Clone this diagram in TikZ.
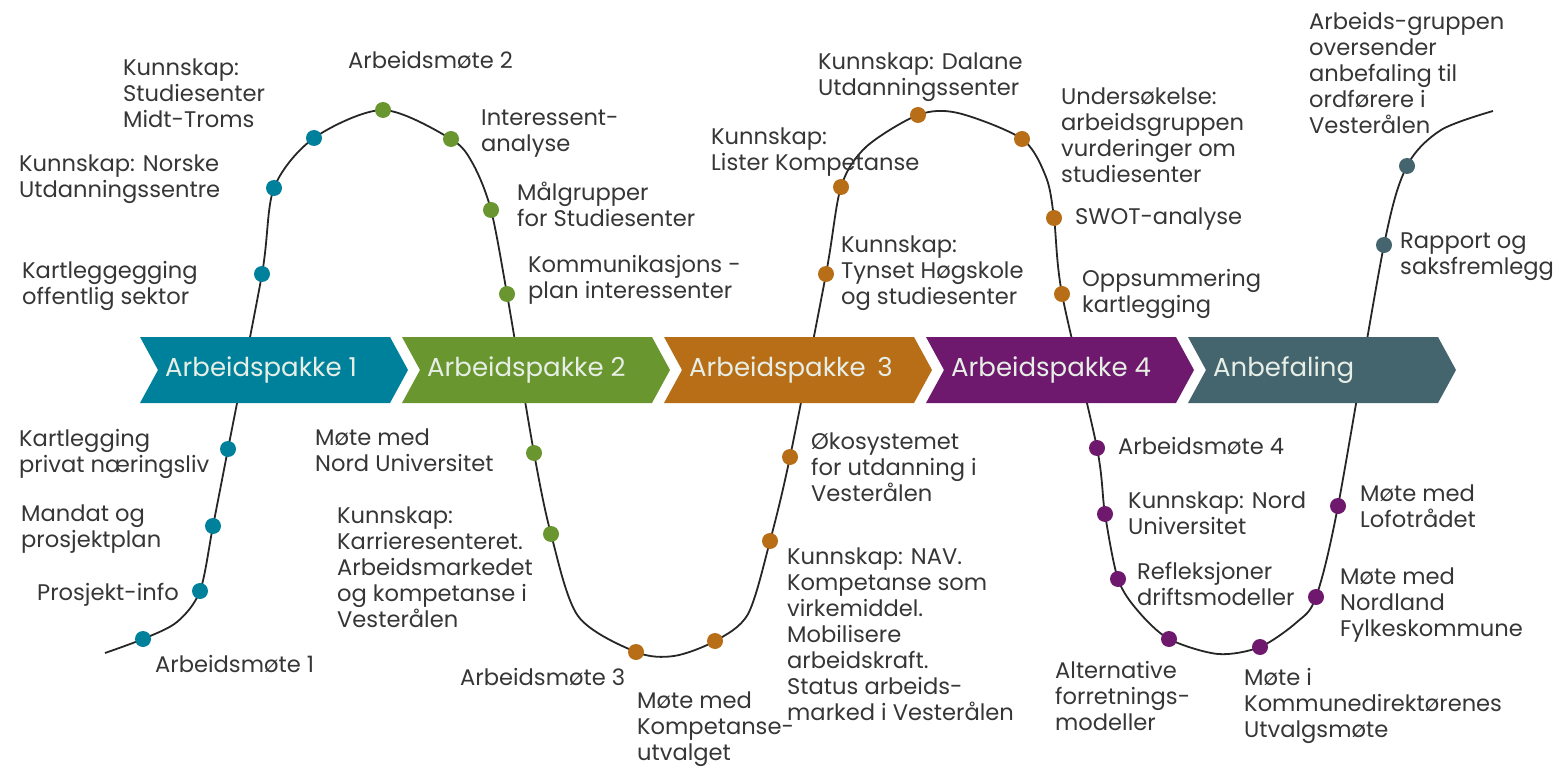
\documentclass[tikz,border=0pt]{standalone}
\usepackage{fontspec}
\setmainfont{Poppins}
\definecolor{cblue}{HTML}{00819B}
\definecolor{cgreen}{HTML}{6A962F}
\definecolor{corange}{HTML}{B86E17}
\definecolor{cpurple}{HTML}{6E196D}
\definecolor{cslate}{HTML}{44646E}
\definecolor{ctext}{HTML}{363636}
\definecolor{clight}{HTML}{E6EEE6}
\newcommand\chev[4]{%
  \fill[#2] (#1,337) -- ++(250,0) -- ++(18,33) -- ++(-18,33) -- ++(-250,0) -- ++(18,-33) -- cycle;
  \node[chevtext] (#3) at (#1+25,370) {#4};}
\begin{document}
\begin{tikzpicture}[x=1pt,y=-1pt,
  lbl/.style={anchor=north west, inner sep=0pt, align=left, text=ctext, font=\fontsize{22.6}{26}\selectfont},
  dot/.style={circle, fill=#1, minimum size=16pt, inner sep=0pt},
  chevtext/.style={anchor=west, inner sep=0pt, text=clight, font=\fontsize{26}{30}\selectfont},
  wave/.style={line width=1.8pt, draw=black!85}
]
\useasboundingbox (0,0) rectangle (1558,767);
% curve points
\coordinate (s0) at (105,653);
\coordinate (a1) at (143,639);
\coordinate (q1) at (177,622);
\coordinate (a2) at (200,591);
\coordinate (a3) at (213,526);
\coordinate (a4) at (228,449);
\coordinate (a5) at (262,274);
\coordinate (a6) at (274,188);
\coordinate (a7) at (314,138);
\coordinate (g1) at (383,110);
\coordinate (g2) at (451,139);
\coordinate (q2) at (473,164);
\coordinate (g3) at (491,210);
\coordinate (g4) at (507,294);
\coordinate (g5) at (534,453);
\coordinate (g6) at (551,534);
\coordinate (q3) at (578,616);
\coordinate (o1) at (636,652);
\coordinate (b1) at (674,656);
\coordinate (o2) at (715,641);
\coordinate (q4) at (748,614);
\coordinate (o3) at (770,541);
\coordinate (o4) at (790,457);
\coordinate (o5) at (826,274);
\coordinate (o6) at (841,187);
\coordinate (q5) at (866,147);
\coordinate (o7) at (918,115);
\coordinate (q6) at (958,113);
\coordinate (o8) at (1022,139);
\coordinate (q7) at (1046,177);
\coordinate (o9) at (1054,218);
\coordinate (o10) at (1062,294);
\coordinate (p1) at (1097,448);
\coordinate (p2) at (1105,514);
\coordinate (p3) at (1118,579);
\coordinate (q8) at (1138,611);
\coordinate (p4) at (1169,639);
\coordinate (b2) at (1218,654);
\coordinate (p5) at (1260,647);
\coordinate (q9) at (1297,622);
\coordinate (p6) at (1316,597);
\coordinate (p7) at (1338,506);
\coordinate (t1) at (1384,245);
\coordinate (t2) at (1407,166);
\coordinate (q10) at (1441,130);
\coordinate (e) at (1493,111);
\draw[wave] plot[smooth, tension=0.5] coordinates {(s0) (a1) (q1) (a2) (a3) (a4) (a5) (a6) (a7) (g1) (g2) (q2) (g3) (g4) (g5) (g6) (q3) (o1) (b1) (o2) (q4) (o3) (o4) (o5) (o6) (q5) (o7) (q6) (o8) (q7) (o9) (o10) (p1) (p2) (p3) (q8) (p4) (b2) (p5) (q9) (p6) (p7) (t1) (t2) (q10) (e)};
% chevrons
\chev{140}{cblue}{ap1}{Arbeidspakke 1}
\chev{402}{cgreen}{ap2}{Arbeidspakke 2}
\chev{664}{corange}{ap3}{Arbeidspakke\hspace{0.45em}3}
\chev{926}{cpurple}{ap4}{Arbeidspakke 4}
\chev{1188}{cslate}{anb}{Anbefaling}
% dots
\foreach \c in {a1,a2,a3,a4,a5,a6,a7} \node[dot=cblue] (d\c) at (\c) {};
\foreach \c in {g1,g2,g3,g4,g5,g6} \node[dot=cgreen] (d\c) at (\c) {};
\foreach \c in {o1,o2,o3,o4,o5,o6,o7,o8,o9,o10} \node[dot=corange] (d\c) at (\c) {};
\foreach \c in {p1,p2,p3,p4,p5,p6,p7} \node[dot=cpurple] (d\c) at (\c) {};
\foreach \c in {t1,t2} \node[dot=cslate] (d\c) at (\c) {};
% labels top
\node[lbl] (la7) at (123,59) {Kunnskap:\\Studiesenter\\Midt-Troms};
\node[lbl] (la6) at (19,155) {Kunnskap: Norske\\Utdanningssentre};
\node[lbl] (la5) at (22,261) {Kartleggegging\\offentlig sektor};
\node[lbl] (lg1) at (348,51) {Arbeidsmøte 2};
\node[lbl] (lg2) at (481,110) {Interessent-\\analyse};
\node[lbl] (lg3) at (517,182) {Målgrupper\\for Studiesenter};
\node[lbl] (lg4) at (528,255) {Kommunikasjons -\\plan interessenter};
\node[lbl] (lo6) at (711,128) {Kunnskap:\\Lister Kompetanse};
\node[lbl] (lo7) at (818,53) {Kunnskap: Dalane\\Utdanningssenter};
\node[lbl] (lo5) at (841,236) {Kunnskap:\\Tynset Høgskole\\og studiesenter};
\node[lbl] (lo8) at (1061,88) {Undersøkelse:\\arbeidsgruppen\\vurderinger om\\studiesenter};
\node[lbl] (lo9) at (1075,208) {SWOT-analyse};
\node[lbl] (lo10) at (1082,269) {Oppsummering\\kartlegging};
\node[lbl] (lt2) at (1309,12) {Arbeids-gruppen\\oversender\\anbefaling til\\ordførere i\\Vesterålen};
\node[lbl] (lt1) at (1400,233) {Rapport og\\saksfremlegg};
% labels bottom
\node[lbl] (la4) at (19,429) {Kartlegging\\privat næringsliv};
\node[lbl] (la3) at (21,505) {Mandat og\\prosjektplan};
\node[lbl] (la2) at (37,583) {Prosjekt-info};
\node[lbl] (la1) at (155,655) {Arbeidsmøte 1};
\node[lbl] (lg5) at (315,429) {Møte med\\Nord Universitet};
\node[lbl] (lg6) at (337,507) {Kunnskap:\\Karrieresenteret.\\Arbeidsmarkedet\\og kompetanse i\\Vesterålen};
\node[lbl] (lo1) at (460,668) {Arbeidsmøte 3};
\node[lbl] (lo2) at (637,692) {Møte med\\Kompetanse-\\utvalget};
\node[lbl] (lo4) at (811,433) {Økosystemet\\for utdanning i\\Vesterålen};
\node[lbl] (lo3) at (787,548) {Kunnskap: NAV.\\Kompetanse som\\virkemiddel.\\Mobilisere\\arbeidskraft.\\Status arbeids-\\marked i Vesterålen};
\node[lbl] (lp1) at (1118,437) {Arbeidsmøte 4};
\node[lbl] (lp2) at (1128,492) {Kunnskap: Nord\\Universitet};
\node[lbl] (lp3) at (1137,562) {Refleksjoner\\driftsmodeller};
\node[lbl] (lp4) at (1055,661) {Alternative\\forretnings-\\modeller};
\node[lbl] (lp5) at (1244,668) {Møte i\\Kommunedirektørenes\\Utvalgsmøte};
\node[lbl] (lp6) at (1340,568) {Møte med\\Nordland\\Fylkeskommune};
\node[lbl] (lp7) at (1360,485) {Møte med\\Lofotrådet};
\end{tikzpicture}
\end{document}
